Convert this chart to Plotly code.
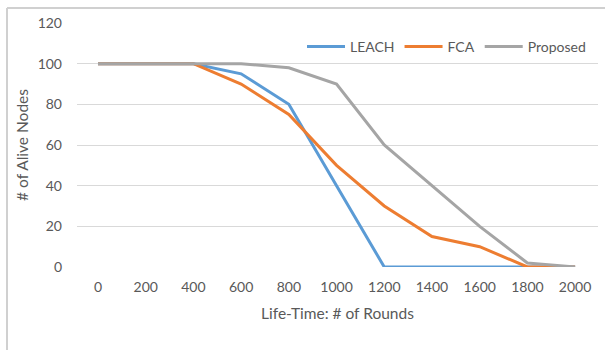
import plotly.graph_objects as go

rounds = [0, 200, 400, 600, 800, 1000, 1200, 1400, 1600, 1800, 2000]
leach = [100, 100, 100, 95, 80, 40, 0, 0, 0, 0, 0]
fca = [100, 100, 100, 90, 75, 50, 30, 15, 10, 0, 0]
proposed = [100, 100, 100, 100, 98, 90, 60, 40, 20, 2, 0]
y_ticks = [0, 20, 40, 60, 80, 100, 120]

W, H = 605, 350
ml, mr, mt, mb = 77, 7, 23, 83
pw, ph = W - ml - mr, H - mt - mb

fig = go.Figure()
for name, vals, col in [("LEACH", leach, "#5B9BD5"), ("FCA", fca, "#ED7D31"), ("Proposed", proposed, "#A5A5A5")]:
    fig.add_trace(go.Scatter(x=rounds, y=vals, mode="lines", name=name,
                             line=dict(color=col, width=3)))

font = "Lato, Liberation Sans, Arial, sans-serif"
fig.update_layout(
    width=W, height=H,
    margin=dict(l=ml, r=mr, t=mt, b=mb),
    paper_bgcolor="white", plot_bgcolor="white",
    font=dict(family=font, size=14, color="#595959"),
    showlegend=True,
    legend=dict(orientation="h", x=1 - 7 / pw, xanchor="right", y=1 - 8 / ph, yanchor="top",
                bgcolor="rgba(0,0,0,0)", font=dict(size=14, color="#595959"),
                itemwidth=38, tracegroupgap=0),
    xaxis=dict(range=[-88, 2096], tickvals=rounds, ticktext=[str(r) for r in rounds],
               showgrid=False, zeroline=False, showline=False, ticks="", ticklabelstandoff=10,
               title=dict(text="Life-Time: # of Rounds", standoff=14, font=dict(size=15.5)),
               fixedrange=True),
    yaxis=dict(range=[0, 120], tickvals=y_ticks, showgrid=True, gridcolor="#D9D9D9", gridwidth=1,
               zeroline=False, showline=False, ticks="", ticklabelstandoff=14,
               title=dict(text="# of Alive Nodes", standoff=5, font=dict(size=15.5)),
               fixedrange=True),
    shapes=[
        dict(type="line", xref="paper", yref="paper", x0=(7 - ml) / pw, x1=(W - ml) / pw + 0.01,
             y0=(H - mb - 8) / ph, y1=(H - mb - 8) / ph, line=dict(color="#D0D0D0", width=2)),
        dict(type="line", xref="paper", yref="paper", x0=(7 - ml) / pw, x1=(7 - ml) / pw,
             y0=(H - mb - 8) / ph, y1=-mb / ph - 0.01, line=dict(color="#D0D0D0", width=2)),
    ],
)
fig.write_html("out.html")
